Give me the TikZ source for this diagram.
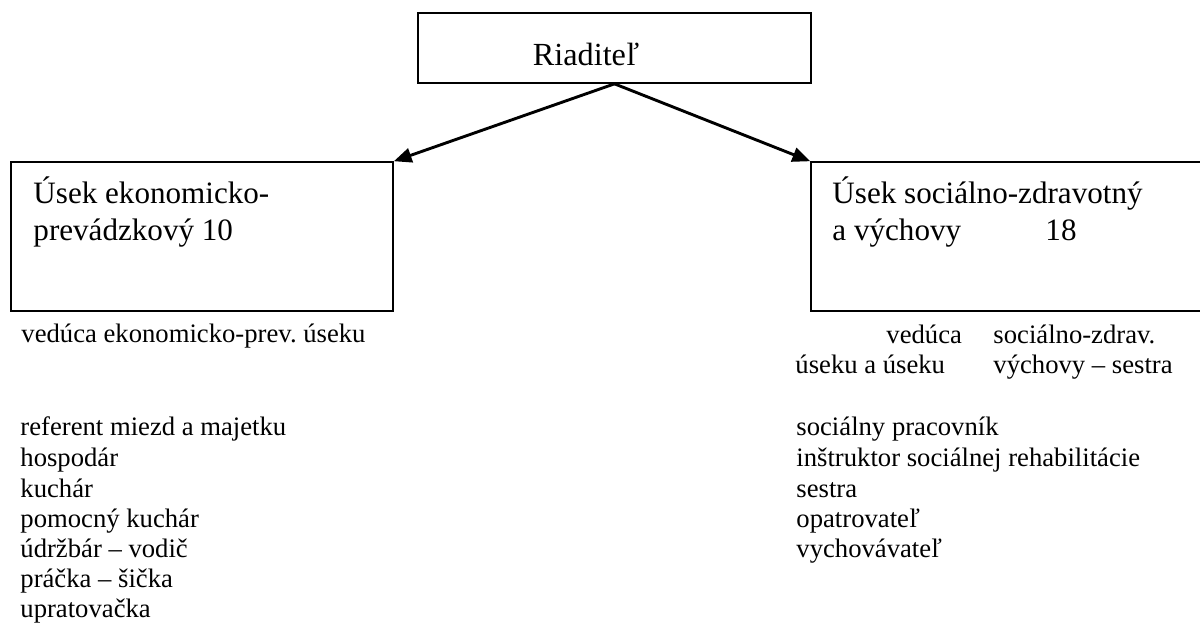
\documentclass[tikz,border=0pt]{standalone}
\usepackage{fontspec}
\setmainfont{Liberation Serif}
\usetikzlibrary{arrows.meta}

\begin{document}
\begin{tikzpicture}[x=0.45pt,y=-0.45pt,
    box/.style={draw,line width=0.75pt,inner sep=0pt},
    big/.style={anchor=base west,inner sep=0pt,font=\fontsize{14pt}{16.6pt}\selectfont},
    small/.style={anchor=base west,inner sep=0pt,font=\fontsize{12pt}{13.7pt}\selectfont},
    arr/.style={line width=1.3pt,-{Triangle[length=8pt,width=6.5pt]}}]
      \useasboundingbox (0,0) rectangle (1200,625);

      % boxes
      \node[box,minimum width=176.9pt,minimum height=31.5pt] (dir) at (614.5,48) {};
      \node[box,minimum width=171.9pt,minimum height=67pt] (eko) at (202,236.5) {};
      \node[box,minimum width=189pt,minimum height=67pt] (soc) at (1021,236.5) {};

      \node[big,anchor=base,font=\fontsize{14.5pt}{16.6pt}\selectfont] (dirtxt) at (586,65) {Riaditeľ};

      \draw[arr] (dir.south) -- (eko.north east);
      \draw[arr] (dir.south) -- (soc.north west);

      % left side
      \node[big] (eko1) at (33,203) {Úsek ekonomicko-};
      \node[big] (eko2) at (33,240) {prevádzkový 10};
      \node[small] (ekohead) at (21,342) {vedúca ekonomicko-prev.\ úseku};

      \node[small] (e1) at (20,435) {referent miezd a majetku};
      \node[small] (e2) at (20,466) {hospodár};
      \node[small] (e3) at (20,497) {kuchár};
      \node[small] (e4) at (20,527) {pomocný kuchár};
      \node[small] (e5) at (20,557) {údržbár – vodič};
      \node[small] (e6) at (20,587) {práčka – šička};
      \node[small] (e7) at (20,617) {upratovačka};

      % right side
      \node[big] (soc1) at (832,203) {Úsek sociálno-zdravotný};
      \node[big] (soc2) at (832,240) {a výchovy};
      \node[big] (socnum) at (1045,240) {18};
      \node[small] (sochead1) at (886,343) {vedúca};
      \node[small] (sochead2) at (993,343) {sociálno-zdrav.};
      \node[small] (sochead3) at (795,373) {úseku a úseku};
      \node[small] (sochead4) at (993,373) {výchovy – sestra};

      \node[small] (s1) at (796,435) {sociálny pracovník};
      \node[small] (s2) at (796,466) {inštruktor sociálnej rehabilitácie};
      \node[small] (s3) at (796,497) {sestra};
      \node[small] (s4) at (796,527) {opatrovateľ};
      \node[small] (s5) at (796,557) {vychovávateľ};
\end{tikzpicture}
\end{document}
